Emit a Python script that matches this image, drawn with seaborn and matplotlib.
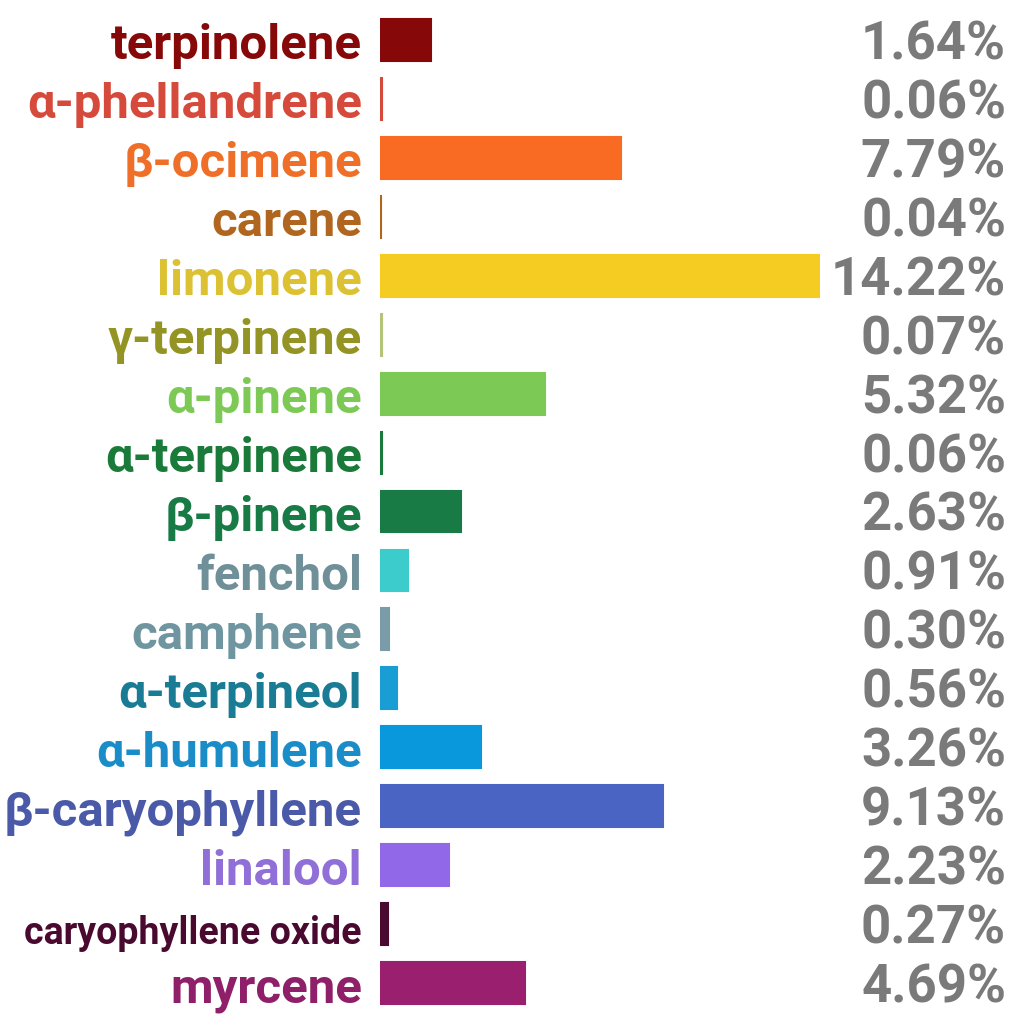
import matplotlib
matplotlib.use("Agg")
import matplotlib.pyplot as plt
import seaborn as sns
import pandas as pd

names = ["terpinolene", "α-phellandrene", "β-ocimene", "carene", "limonene",
         "γ-terpinene", "α-pinene", "α-terpinene", "β-pinene", "fenchol",
         "camphene", "α-terpineol", "α-humulene", "β-caryophyllene", "linalool",
         "caryophyllene oxide", "myrcene"]
values = [1.64, 0.06, 7.79, 0.04, 14.22, 0.07, 5.32, 0.06, 2.63, 0.91,
          0.30, 0.56, 3.26, 9.13, 2.23, 0.27, 4.69]
bar_colors = ["#860808", "#d64a3c", "#f96b22", "#b0661e", "#f5cc22",
              "#b4c47a", "#7cc955", "#1a7a3a", "#187a45", "#3ccccc",
              "#7a9ca8", "#1a9cd4", "#0a98dc", "#4a64c4", "#9068e8",
              "#4a0a30", "#9a1f6e"]
label_colors = ["#860808", "#d64a3c", "#ef6f28", "#b0661e", "#dcc232",
                "#939424", "#7cc955", "#1a7a3a", "#187a45", "#6f9098",
                "#6f96a0", "#1a7c94", "#1a8cc8", "#4a5aa8", "#9070d8",
                "#4a0a30", "#8e1f68"]

df = pd.DataFrame({"name": names, "value": values})

sns.set_style("white")
plt.rcParams["font.family"] = ["Roboto", "DejaVu Sans"]

fig = plt.figure(figsize=(10.24, 10.24), dpi=100)
ax = fig.add_axes([380 / 1024, 0.0112, 440 / 1024, 0.9785])

sns.barplot(data=df, x="value", y="name", hue="name", palette=dict(zip(names, bar_colors)),
            orient="h", width=0.71, legend=False, ax=ax, saturation=1)
# thin bars stay visible: outline in their own colour
for bar, c in zip(ax.patches, bar_colors):
    bar.set_edgecolor(c)
    bar.set_linewidth(1.5)

ax.set_xlim(0, 14.22)
ax.set_ylim(len(names) - 0.5, -0.5)
ax.axis("off")

tr = ax.get_yaxis_transform()
for i, (n, v, c) in enumerate(zip(names, values, label_colors)):
    size = 27 if n == "caryophyllene oxide" else 35.5
    ax.text(-0.041, i + 0.33, n, transform=tr, ha="right", va="baseline",
            color=c, fontsize=size, fontweight="bold")
    ax.text(1.423, i + 0.33, f"{v:.2f}%", transform=tr, ha="right", va="baseline",
            color="#7a7a7a", fontsize=38, fontweight="bold")

fig.savefig("out.png", dpi=100, facecolor="white")
